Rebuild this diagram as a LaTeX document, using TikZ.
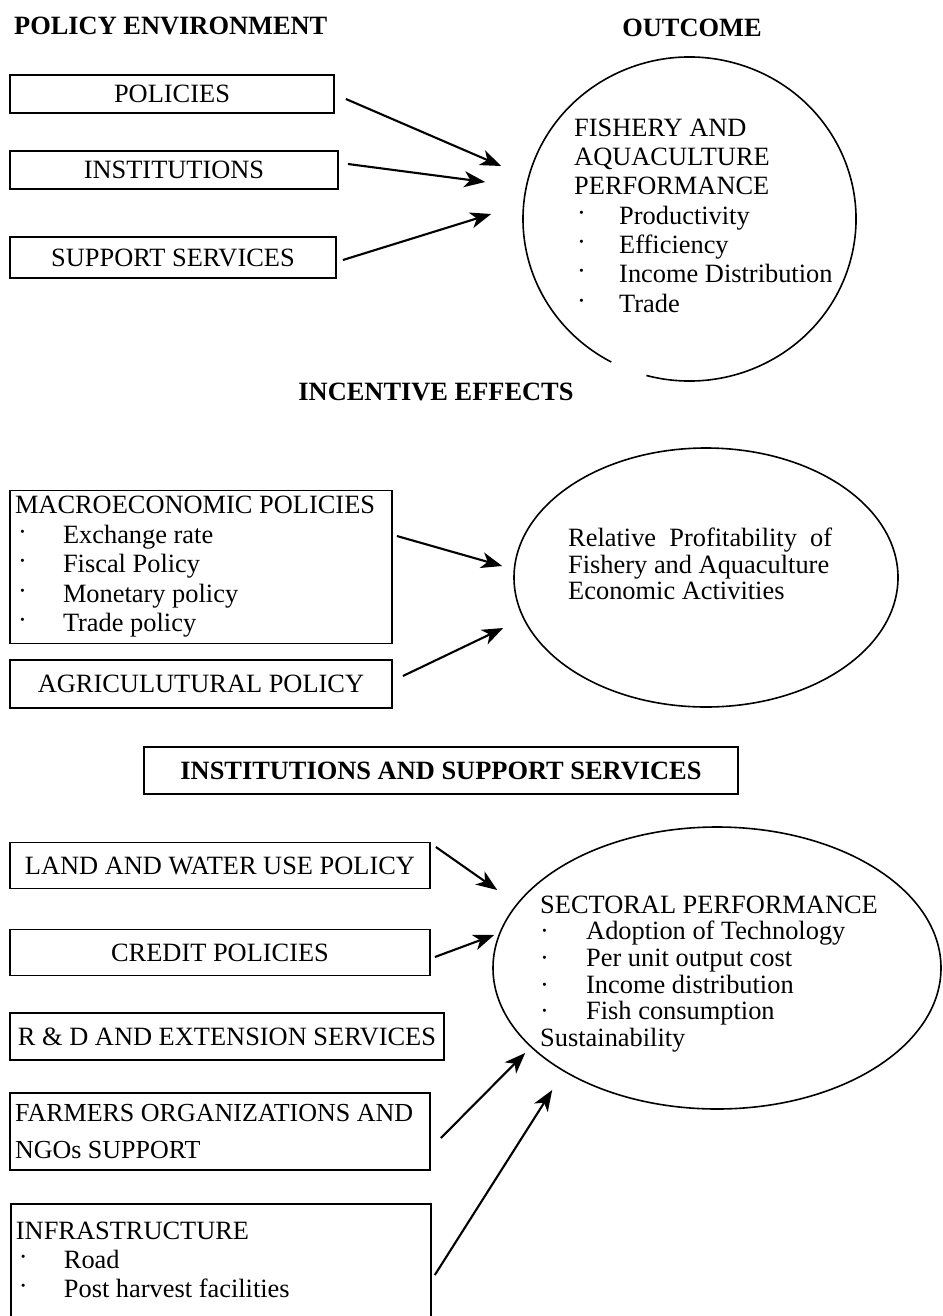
\documentclass[tikz,border=0pt]{standalone}
\usepackage{fontspec}
\setmainfont{Liberation Serif}
\usetikzlibrary{arrows.meta,shapes.geometric}
\newcommand{\bul}[2][48pt]{\makebox[#1][l]{\hspace{3pt}\raisebox{3pt}{\textperiodcentered}}#2}
\newcommand{\mdt}[1]{\makebox[46pt][l]{\textperiodcentered}#1}

\begin{document}
\begin{tikzpicture}[x=1pt,y=1pt,font=\fontsize{26.4}{29}\selectfont]
	\tikzset{box/.style={draw, line width=1.8pt, inner xsep=5pt, inner ysep=0pt}}
	\tikzset{boxtxt/.style={box, text width=#1, align=left, execute at begin node={\spaceskip=0pt\relax}}}
	\tikzset{oval/.style={ellipse, line width=1.6pt, inner sep=0pt}}
	\tikzset{ttl/.style={font=\fontsize{26.4}{29}\selectfont\bfseries}}
	\tikzset{txt/.style={align=left, inner sep=0pt, anchor=north west}}
	\tikzset{arr/.style={line width=2.1pt, -{Stealth[length=21pt,width=16pt,inset=6pt]}}}
	\useasboundingbox (0,0) rectangle (942,-1316);
	\node[ttl, inner sep=0pt, anchor=base west] (polenv) at (14,-35) {POLICY ENVIRONMENT};
	\node[ttl, inner sep=0pt, anchor=base] (outc) at (692,-37) {OUTCOME};
	\node[box, minimum width=324, minimum height=38] (pol) at (172,-94) {POLICIES};
	\node[box, minimum width=328, minimum height=38] (inst) at (174,-170) {INSTITUTIONS};
	\node[box, minimum width=326, minimum height=41] (supp) at (173,-257.5) {SUPPORT SERVICES};
	\node[oval, minimum width=333, minimum height=324] (perf) at (689.5,-219) {};
	\draw[line width=1.6pt] (perf.center) ++(255:166.5 and 162) arc[start angle=255, end angle=602, x radius=166.5, y radius=162];
	\node[txt, font=\fontsize{26.4}{29.3}\selectfont] (perftxt) at (574,-118.6) {FISHERY AND\\ AQUACULTURE\\ PERFORMANCE\\
		\bul[45pt]{Productivity}\\ \bul[45pt]{Efficiency}\\ \bul[45pt]{Income Distribution}\\ \bul[45pt]{Trade}};
	\draw[arr] ([shift={(11,-5)}]pol.east) -- ([shift={(-21,53)}]perf.west);
	\draw[arr] ([shift={(9,6)}]inst.east) -- ([shift={(-37,37)}]perf.west);
	\draw[arr] ([shift={(6,-2.5)}]supp.east) -- ([shift={(-31,5)}]perf.west);

	\node[ttl, inner sep=0pt, anchor=base] (incent) at (436,-400) {INCENTIVE EFFECTS};
	\node[boxtxt=372, minimum height=153, font=\fontsize{26.4}{29.5}\selectfont] (macro) at (201,-567)
		{MACROECONOMIC POLICIES\\ \bul{Exchange rate}\\ \bul{Fiscal Policy}\\ \bul{Monetary policy}\\ \bul{Trade policy}};
	\node[box, minimum width=382, minimum height=48] (agri) at (201,-684) {AGRICULUTURAL POLICY};
	\node[oval, draw, minimum width=384, minimum height=259] (prof) at (706,-577.5) {};
	\node[txt, font=\fontsize{26.4}{26.5}\selectfont] (proftxt) at (568,-527.8)
		{\makebox[264pt][s]{Relative Profitability of}\\ Fishery and Aquaculture\\ Economic Activities};
	\draw[arr] ([shift={(4,31)}]macro.east) -- ([shift={(-11,11.5)}]prof.west);
	\draw[arr] ([shift={(10,8)}]agri.east) -- ([shift={(-10,-50.5)}]prof.west);

	\node[box, ttl, minimum width=594, minimum height=47] (isserv) at (441,-770.5) {INSTITUTIONS AND SUPPORT SERVICES};
	\node[box, minimum width=420, minimum height=46] (land) at (220,-865.5) {LAND AND WATER USE POLICY};
	\node[box, minimum width=420, minimum height=46] (cred) at (220,-952.5) {CREDIT POLICIES};
	\node[box, minimum width=434, minimum height=47] (rnd) at (227,-1036.5) {R \& D AND EXTENSION SERVICES};
	\node[boxtxt=410, minimum height=77, font=\fontsize{26}{29}\selectfont] (farm) at (220,-1131.5)
		{FARMERS ORGANIZATIONS AND\\[8pt] NGOs SUPPORT};
	\node[boxtxt=410, inner ysep=18pt, anchor=north west] (infra) at (10,-1203)
		{INFRASTRUCTURE\\ \bul{Road}\\ \bul{Post harvest facilities}\\[30pt] ~};
	\node[oval, draw, minimum width=448, minimum height=282] (sect) at (717,-968) {};
	\node[txt, font=\fontsize{26.4}{26.6}\selectfont] (secttxt) at (540,-895.6)
		{SECTORAL PERFORMANCE\\ \mdt{Adoption of Technology}\\ \mdt{Per unit output cost}\\
		\mdt{Income distribution}\\ \mdt{Fish consumption}\\ Sustainability};
	\draw[arr] ([shift={(5,18.5)}]land.east) -- ([shift={(5,78)}]sect.west);
	\draw[arr] ([shift={(4,-4.5)}]cred.east) -- ([shift={(2,33)}]sect.west);
	\draw[arr] ([shift={(10,-6.5)}]farm.east) -- ([shift={(33,-85)}]sect.west);
	\draw[arr] ([shift={(3,-72)}]infra.north east) -- ([shift={(60,-122)}]sect.west);
\end{tikzpicture}
\end{document}
